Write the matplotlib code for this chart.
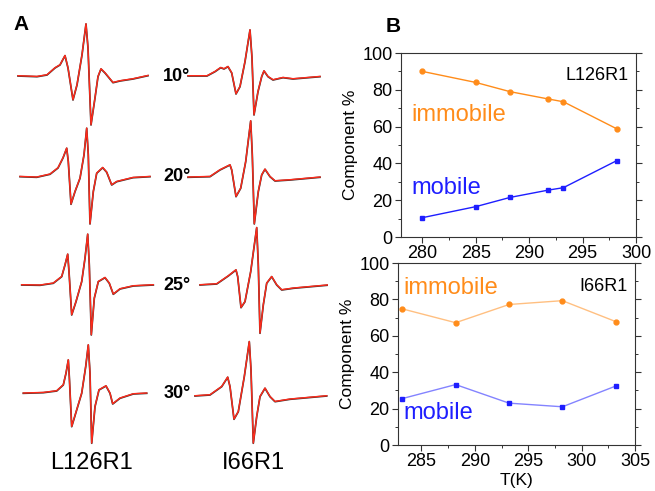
import matplotlib
matplotlib.use("Agg")
import matplotlib.pyplot as plt
from matplotlib.ticker import MultipleLocator

plt.rcParams['font.family'] = ['Liberation Sans', 'DejaVu Sans']

# ---------------- Panel A: EPR spectra (field position, amplitude) ----------------
temps = ["10°", "20°", "25°", "30°"]
row_baseline = [76, 176.7, 285, 393.3]

l126_10_x = [18, 37, 47, 55, 60, 65, 68, 73, 77, 82, 86, 88, 91, 95, 98, 101, 105, 113, 120, 133, 148]
l126_10_a = [0, -0.7, 1, 8, 11, 20.3, 8, -24, -9, 21, 52, 28, -49, -22, -0.7, 7, 3, -6.7, -5, -3, 0.3]
i66_10_x = [188, 207, 215, 220.7, 224, 228, 231.7, 236, 240, 245, 250, 252, 254, 258, 261.7, 264, 268, 273, 283, 293, 320]
i66_10_a = [0, 0, 4.3, 8.3, 7, 9.3, 3, -18, -10.7, 14.3, 46, 18, -39, -15.7, -0.7, 5, -0.7, -4, -1.7, -3, -0.7]

l126_20_x = [20, 36.7, 50, 58, 63, 66.7, 68.3, 71, 75, 80, 84, 86.7, 88.3, 90, 93.3, 96.7, 102.7, 106.7, 111.7, 116.7, 133, 150]
l126_20_a = [0, -0.6, 2.4, 8.7, 18.7, 28.4, 15, -27.6, -15, -1.6, 21.7, 48.4, 21.7, -47.3, -15, 3.4, 9, 4.4, -8.3, -5, -1, 0]
i66_20_x = [188, 210, 220, 230, 231.7, 236, 240.7, 245.7, 250.7, 252.3, 254.3, 258.3, 261.7, 265, 270, 275, 290, 320]
i66_20_a = [-0.6, 0, 6.7, 11.7, 6.7, -20, -11.6, 15, 55.7, 21.7, -47.3, -15, 1.7, 7.4, 0, -4.3, -3.3, -0.6]

l126_25_x = [21.7, 40, 53.3, 61.7, 65, 67.7, 69, 71.7, 76, 81.7, 85, 87.7, 89.3, 91.3, 94.3, 98.3, 105, 109.3, 113.3, 120, 133.3, 153.3]
l126_25_a = [0, -0.3, 1.7, 8.3, 20, 30.7, 13.3, -30, -16.7, 3.3, 26.7, 50.7, 20, -50, -13.3, 3.3, 7.3, 1.7, -9.3, -4, -1, 0]
i66_25_x = [200, 216.7, 228.3, 236, 237.7, 241, 245, 250.7, 256.7, 258.3, 260, 263.3, 266.7, 271.7, 276.7, 281.7, 293.3, 330]
i66_25_a = [0, 1, 9, 15, 8.3, -22.7, -16.7, 13.3, 57.3, 20, -48.3, -20, 1.7, 8.3, 0, -5, -3.3, 0]

l126_30_x = [23.3, 43.3, 56.7, 63.3, 66, 68.3, 69.3, 71.7, 76.7, 81.7, 85.7, 88.3, 90, 91.7, 95, 99, 106, 110, 112.7, 120, 133.3, 146.7]
l126_30_a = [0, 0.6, 2.3, 8.3, 20, 33.3, 16.6, -33.4, -16.7, 0, 26.6, 48.3, 20, -50, -13.4, 3.3, 7.3, 0, -10.7, -5, -0.7, 0]
i66_30_x = [195, 210, 221.7, 227.7, 230, 234, 238.3, 244.3, 249.3, 251, 253.3, 256.7, 260, 265, 270, 275, 290, 326.7]
i66_30_a = [-2.7, -1.7, 6.6, 16, 6.6, -26, -18.4, 16.6, 51.6, 23.3, -50, -23.4, -3.4, 5, -3.4, -8.4, -6, -2.7]

spectra = [
    [(l126_10_x, l126_10_a), (i66_10_x, i66_10_a)],
    [(l126_20_x, l126_20_a), (i66_20_x, i66_20_a)],
    [(l126_25_x, l126_25_a), (i66_25_x, i66_25_a)],
    [(l126_30_x, l126_30_a), (i66_30_x, i66_30_a)],
]
sample_labels = ["L126R1", "I66R1"]

# ---------------- Panel B data ----------------
T_top = [280, 285, 288.2, 291.8, 293.2, 298.2]
immobile_top = [90, 84, 79, 75, 73.5, 58.8]
mobile_top = [10.5, 16.5, 21.5, 25.5, 26.8, 41.5]

T_bot = [283.2, 288.2, 293.2, 298.2, 303.2]
immobile_bot = [74.8, 67.2, 77.2, 79.3, 67.8]
mobile_bot = [25.5, 33.2, 23.0, 21.0, 32.4]

ORANGE = '#ff8c1a'
BLUE = '#1e1eff'

W, H = 655, 491
fig = plt.figure(figsize=(W / 100, H / 100), dpi=100)

# Panel A axes in pixel-like coordinates
axA = fig.add_axes([0, 0, 0.5, 1])
axA.set_xlim(0, W / 2)
axA.set_ylim(H, 0)
axA.axis('off')
for r, row in enumerate(spectra):
    base = row_baseline[r]
    for (xs, amps) in row:
        ys = [base - a for a in amps]
        axA.plot(xs, ys, color='#333333', lw=1.25, solid_joinstyle='round')
        axA.plot(xs, [y - 0.3 for y in ys], color='#ff2a1a', lw=1.0, solid_joinstyle='round')
    axA.text(177, base, temps[r], fontsize=13, fontweight='bold', ha='center', va='center')
axA.text(91, 463, sample_labels[0], fontsize=17, ha='center', va='center')
axA.text(253, 463, sample_labels[1], fontsize=17, ha='center', va='center')
fig.text(21 / W, 1 - 25 / H, "A", fontsize=15, fontweight='bold', ha='center', va='center')
fig.text(393 / W, 1 - 26 / H, "B", fontsize=15, fontweight='bold', ha='center', va='center')


def style_axes(ax):
    for s in ax.spines.values():
        s.set_linewidth(0.8)
        s.set_color('#333333')
    ax.set_ylim(0, 100)
    ax.yaxis.set_major_locator(MultipleLocator(20))
    ax.yaxis.set_minor_locator(MultipleLocator(10))
    ax.xaxis.set_major_locator(MultipleLocator(5))
    ax.xaxis.set_minor_locator(MultipleLocator(2.5))
    ax.tick_params(axis='both', which='major', direction='out', length=4, width=0.8,
                   labelsize=13, pad=2, colors='#333333', labelcolor='black')
    ax.tick_params(axis='both', which='minor', direction='out', length=2.5, width=0.7, colors='#333333')
    ax.tick_params(axis='y', which='both', right=True)
    ax.set_ylabel("Component %", fontsize=12.5, labelpad=3)


ax1 = fig.add_axes([401 / W, 1 - 237 / H, 235 / W, 184 / H])
ax1.plot(T_top, immobile_top, color=ORANGE, lw=1.0, marker='o', ms=3.5)
ax1.plot(T_top, mobile_top, color=BLUE, lw=1.0, marker='s', ms=3.2)
ax1.set_xlim(278, 300)
style_axes(ax1)
ax1.text(0.97, 0.88, "L126R1", transform=ax1.transAxes, fontsize=13, ha='right', va='center')
ax1.text(279, 66.5, "immobile", color=ORANGE, fontsize=17, ha='left', va='center')
ax1.text(279, 26.5, "mobile", color=BLUE, fontsize=17, ha='left', va='center')

ax2 = fig.add_axes([398 / W, 1 - 445 / H, 237 / W, 182 / H])
ax2.plot(T_bot, immobile_bot, color=ORANGE, lw=1.0, alpha=0.55)
ax2.plot(T_bot, immobile_bot, color=ORANGE, lw=0, marker='o', ms=3.5)
ax2.plot(T_bot, mobile_bot, color=BLUE, lw=1.0, alpha=0.55)
ax2.plot(T_bot, mobile_bot, color=BLUE, lw=0, marker='s', ms=3.2)
ax2.set_xlim(282.8, 305)
style_axes(ax2)
ax2.set_xlabel("T(K)", fontsize=12.5, labelpad=2)
ax2.text(0.97, 0.87, "I66R1", transform=ax2.transAxes, fontsize=13, ha='right', va='center')
ax2.text(283.3, 86.5, "immobile", color=ORANGE, fontsize=17, ha='left', va='center')
ax2.text(283.3, 17.5, "mobile", color=BLUE, fontsize=17, ha='left', va='center')

fig.savefig("out.png", dpi=100)
